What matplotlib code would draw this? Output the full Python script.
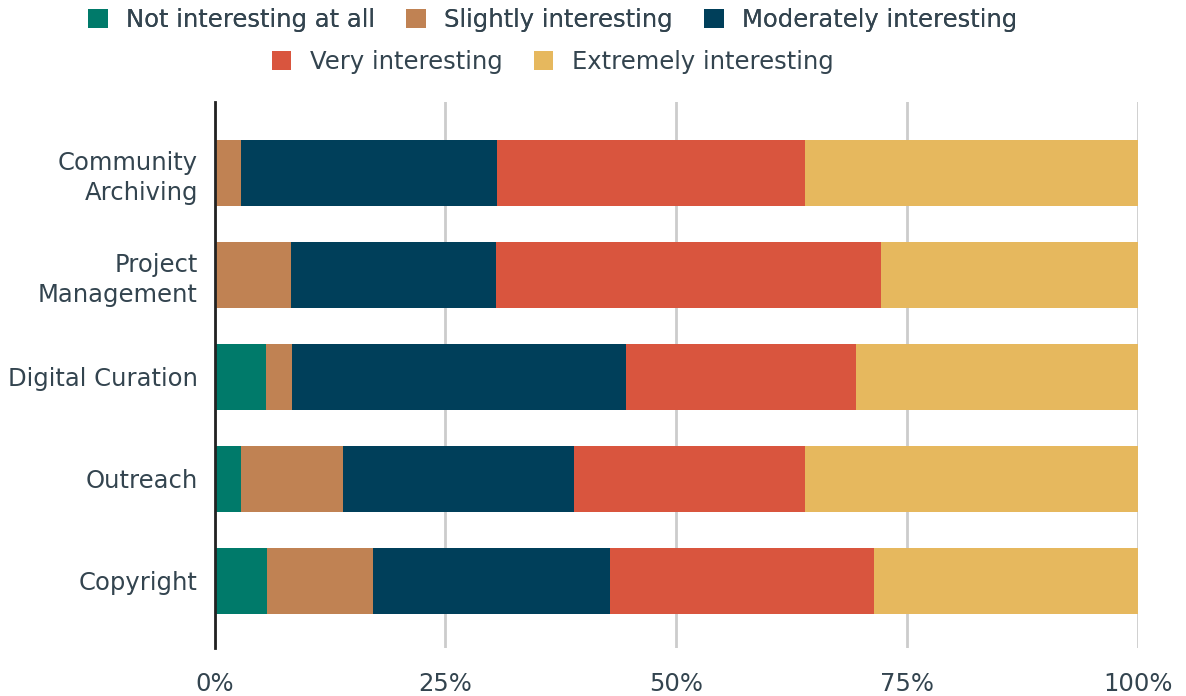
import matplotlib.pyplot as plt
from matplotlib.patches import Patch

topics = ['Community\nArchiving', 'Project\nManagement', 'Digital Curation', 'Outreach', 'Copyright']
levels = ['Not interesting at all', 'Slightly interesting', 'Moderately interesting',
          'Very interesting', 'Extremely interesting']
colors = ['#007a6a', '#c08253', '#003f5a', '#d9553e', '#e6b85e']

# percent of respondents per level
not_at_all = [0.0, 0.0, 5.6, 2.8, 5.7]
slightly = [2.8, 8.3, 2.8, 11.1, 11.4]
moderately = [27.8, 22.2, 36.1, 25.0, 25.7]
very = [33.3, 41.7, 25.0, 25.0, 28.6]
extremely = [36.1, 27.8, 30.6, 36.1, 28.6]
series = [not_at_all, slightly, moderately, very, extremely]

text_color = '#33444f'
plt.rcParams['font.family'] = 'DejaVu Sans'

fig = plt.figure(figsize=(11.86, 6.96), dpi=100)
ax = fig.add_axes([0.181, 0.069, 0.7785, 0.784])

left = [0.0] * len(topics)
for vals, col, name in zip(series, colors, levels):
    ax.barh(range(len(topics)), vals, left=left, height=0.65, color=col, label=name, zorder=3)
    left = [a + b for a, b in zip(left, vals)]

ax.set_xlim(0, 100)
ax.set_ylim(4.66, -0.69)
ax.set_xticks([0, 25, 50, 75, 100])
ax.set_xticklabels(['0%', '25%', '50%', '75%', '100%'])
ax.set_yticks(range(len(topics)))
ax.set_yticklabels(topics, ha='right', multialignment='right', linespacing=1.3)
ax.tick_params(length=0, labelsize=17.5, colors=text_color)
ax.tick_params(axis='x', pad=17)
ax.tick_params(axis='y', pad=12)
ax.grid(axis='x', color='#cccccc', linewidth=2, zorder=0)
for s in ['top', 'right', 'bottom']:
    ax.spines[s].set_visible(False)
ax.spines['left'].set_color('#222222')
ax.spines['left'].set_linewidth(2)
ax.spines['left'].set_zorder(4)

handles = [Patch(facecolor=c, edgecolor='none') for c in colors]
leg_kw = dict(loc='center', frameon=False, fontsize=17.5, handlelength=0.8, handleheight=0.8,
              columnspacing=1.3, handletextpad=0.75, labelcolor=text_color)
leg1 = fig.legend(handles[:3], levels[:3], bbox_to_anchor=(0.466, 0.971), ncol=3, **leg_kw)
leg2 = fig.legend(handles[3:], levels[3:], bbox_to_anchor=(0.466, 0.911), ncol=2, **leg_kw)
fig.add_artist(leg1)

fig.savefig('out.png', dpi=100)
